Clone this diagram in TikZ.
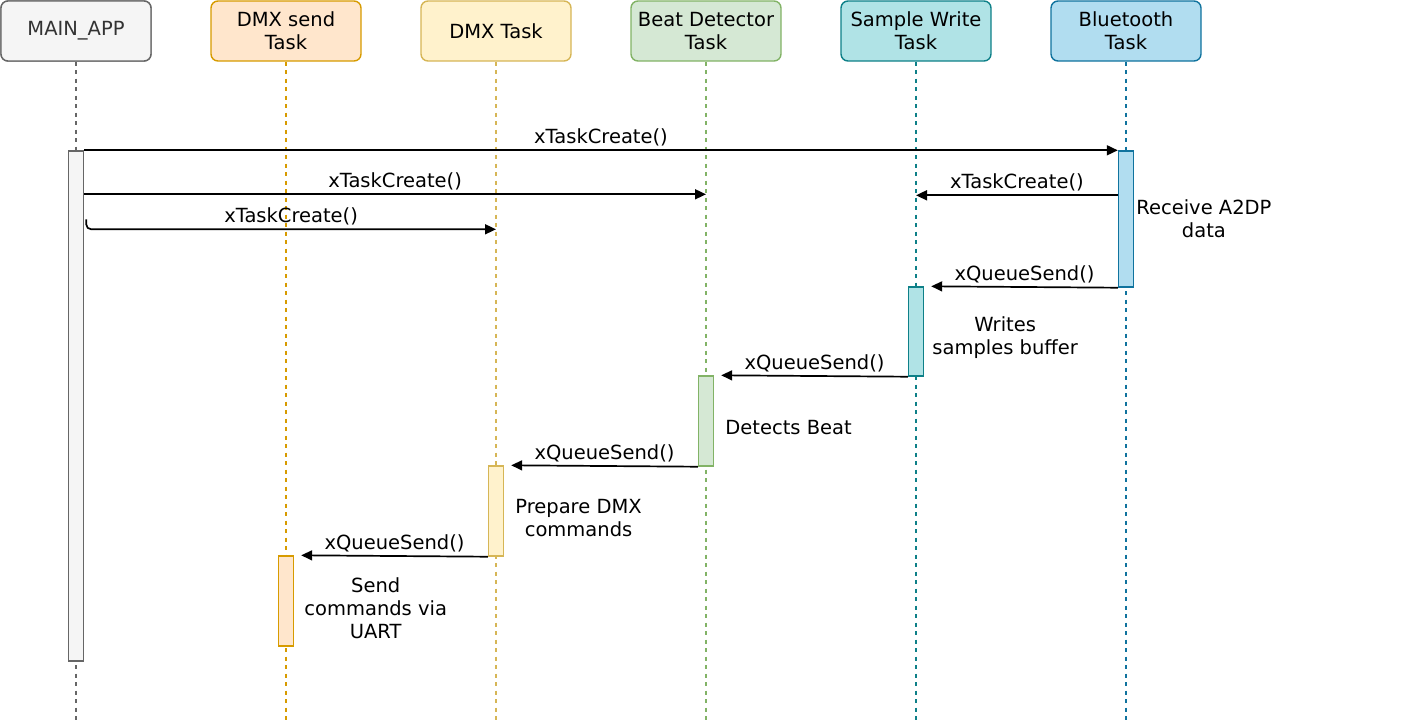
\documentclass[tikz,border=0pt]{standalone}
\usepackage{fontspec}
\setmainfont{DejaVu Sans}
\usetikzlibrary{arrows.meta,positioning}
\definecolor{mainf}{HTML}{F5F5F5}\definecolor{maind}{HTML}{666666}\definecolor{maint}{HTML}{333333}
\definecolor{sendf}{HTML}{FFE6CC}\definecolor{sendd}{HTML}{D79B00}
\definecolor{dmxf}{HTML}{FFF2CC}\definecolor{dmxd}{HTML}{D6B656}
\definecolor{beatf}{HTML}{D5E8D4}\definecolor{beatd}{HTML}{82B366}
\definecolor{sampf}{HTML}{B0E3E6}\definecolor{sampd}{HTML}{0E8088}
\definecolor{btf}{HTML}{B1DDF0}\definecolor{btd}{HTML}{10739E}
\begin{document}
\begin{tikzpicture}[x=1pt,y=-1pt,font=\fontsize{19.5}{23}\selectfont,
		head/.style={draw,rounded corners=7pt,minimum width=150pt,minimum height=60pt,align=center,line width=1.4pt,inner sep=1pt},
		life/.style={dash pattern=on 4pt off 4.5pt,line width=1.2pt},
		bar/.style={draw,minimum width=15pt,inner sep=0pt,line width=1.4pt},
		msg/.style={line width=1.7pt,-{Triangle[length=11pt,width=10pt]}},
		note/.style={align=center,inner sep=0pt}]
				\useasboundingbox (0,0) rectangle (1413,723);
				% lifelines
				\foreach \n/\x/\c/\t in {main/76/main/MAIN\_APP, send/286/send/{DMX send\\Task}, dmxt/496/dmx/DMX Task,
					beat/706/beat/{Beat Detector\\Task}, samp/916/samp/{Sample Write\\Task}, bt/1126/bt/{Bluetooth\\Task}}{
					\node[head,fill=\c f,draw=\c d] (\n) at (\x,31) {\t};
					\draw[life,draw=\c d] (\n.south) -- (\x,723);
				}
				\node[head,fill=mainf,draw=maind,text=maint] at (main) {MAIN\_APP};
				% activations
				\foreach \n/\x/\y/\h/\c in {mainbar/76/406/510/main, btbar/1126/219/136/bt, swbar/916/331.5/89/samp,
					bdbar/706/421/90/beat, dmxbar/496/511/90/dmx, sendbar/286/601/90/send}{
					\node[bar,fill=\c f,draw=\c d,minimum height=\h pt] (\n) at (\x,\y) {};
				}
				% messages
				\draw[msg] (mainbar.north east) -- (btbar.north west) node[midway,above=0pt] {xTaskCreate()};
				\draw[msg] (mainbar.north east) ++(0,44) coordinate (m2) -- (m2 -| beat.south) node[midway,above=0pt] {xTaskCreate()};
				\draw[msg,rounded corners=5pt] (mainbar.north east) ++(2,69) -- ++(0,10) coordinate (m3) -- (m3 -| dmxt.south) node[midway,above=0pt] {xTaskCreate()};
				\draw[msg] (btbar.north west) ++(0,45) coordinate (m4) -- (m4 -| samp.south) node[midway,above=0pt] {xTaskCreate()};
				\draw[msg] (btbar.south west) -- ([xshift=7pt]swbar.north east) node[midway,above=0pt] {xQueueSend()};
				\draw[msg] (swbar.south west) -- ([xshift=7pt]bdbar.north east) node[midway,above=0pt] {xQueueSend()};
				\draw[msg] (bdbar.south west) -- ([xshift=7pt]dmxbar.north east) node[midway,above=0pt] {xQueueSend()};
				\draw[msg] (dmxbar.south west) -- ([xshift=7pt]sendbar.north east) node[midway,above=0pt] {xQueueSend()};
				% notes
				\node[note,right=2pt of btbar] (n1) {Receive A2DP\\data};
				\node[note,right=8pt of swbar,yshift=-6.5pt] (n2) {Writes\\samples buffer};
				\node[note,right=11pt of bdbar,yshift=-7pt] (n3) {Detects Beat};
				\node[note,right=11pt of dmxbar,yshift=-7pt] (n4) {Prepare DMX\\commands};
				\node[note,right=10pt of sendbar,yshift=-7pt] (n5) {Send\\commands via\\UART};
\end{tikzpicture}
\end{document}
